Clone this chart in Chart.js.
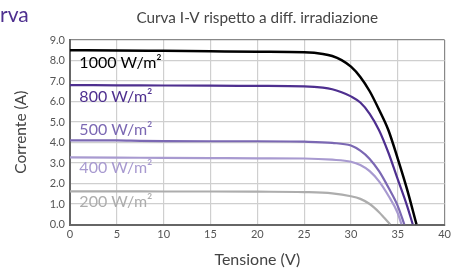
<!DOCTYPE html>
<html><head><meta charset="utf-8">
<script src="https://cdn.jsdelivr.net/npm/chart.js@4/dist/chart.umd.min.js"></script>
<style>html,body{margin:0;padding:0;background:#fff;overflow:hidden}#wrap{position:relative;width:454px;height:270px}</style>
</head><body><div id="wrap"><canvas id="c" width="454" height="270"></canvas></div>
<script>
const V1000 = [0,5,10,15,20,25,27,28,29,30,31,32,33,34,35,36,37];
const I1000 = [8.5,8.49,8.47,8.45,8.43,8.4,8.32,8.22,8.02,7.7,7.2,6.5,5.6,4.6,3.2,1.7,0];
const V800 = [0,5,10,15,20,25,27,28,29,30,31,32,33,34,35,36,36.6];
const I800 = [6.8,6.79,6.78,6.77,6.76,6.74,6.68,6.6,6.45,6.25,5.95,5.4,4.6,3.5,2.2,0.9,0];
const V500 = [0,5,7.5,10,15,20,25,28,30,31,32,33,34,35,35.7];
const I500 = [4.1,4.1,4.08,4.07,4.06,4.06,4.04,3.98,3.85,3.6,3.2,2.6,1.8,0.9,0];
const V400 = [0,5,10,15,20,25,28,30,31,32,33,34,35,35.4];
const I400 = [3.27,3.26,3.25,3.24,3.23,3.22,3.16,3.06,2.9,2.6,2.1,1.4,0.55,0];
const V200 = [0,5,10,15,20,25,28,30,31,32,33,33.6,34.2];
const I200 = [1.62,1.62,1.61,1.61,1.6,1.58,1.52,1.38,1.25,1.0,0.6,0.3,0];
const seriesLabels = ['1000 W/m²','800 W/m²','500 W/m²','400 W/m²','200 W/m²'];
const labelY = [7.9, 6.25, 4.6, 2.77, 1.12];
const chartTitle = 'Curva I-V rispetto a diff. irradiazione';
const xTitle = 'Tensione (V)';
const yTitle = 'Corrente (A)';
const cornerText = 'Curva';

const colors = ['#000000','#4e2f8f','#7b68b3','#a89ad0','#adadad'];
const widths = [2.5,2.2,2.2,2.2,2.2];
const Vs=[V1000,V800,V500,V400,V200], Is=[I1000,I800,I500,I400,I200];
const FONT = 'Lato, "Open Sans", sans-serif';

const textPlugin = {
  id:'texts',
  afterDatasetsDraw(chart){
    const ctx=chart.ctx, xs=chart.scales.x, ys=chart.scales.y;
    ctx.save();
    ctx.textBaseline='middle';
    ctx.textAlign='left';
    ctx.font='16px '+FONT;
    seriesLabels.forEach((t,i)=>{
      ctx.fillStyle=colors[i];
      ctx.fillText(t, xs.getPixelForValue(1), ys.getPixelForValue(labelY[i]));
    });
    ctx.restore();
  },
  afterDraw(chart){
    const ctx=chart.ctx, ca=chart.chartArea;
    ctx.save();
    ctx.textBaseline='middle';
    ctx.textAlign='center';
    ctx.fillStyle='#444';
    ctx.font='15.3px '+FONT;
    ctx.fillText(chartTitle,(ca.left+ca.right)/2,18);
    ctx.textAlign='left';
    ctx.fillStyle='#4e2f8f';
    ctx.font='21px '+FONT;
    const w=ctx.measureText('Cu').width;
    ctx.fillText(cornerText,-w,15);
    ctx.restore();
  }
};

new Chart(document.getElementById('c'),{
  type:'scatter',
  data:{datasets:Vs.map((v,i)=>({
    data:v.map((x,j)=>({x:x,y:Is[i][j]})),
    showLine:true,borderColor:colors[i],borderWidth:widths[i],
    pointRadius:0,cubicInterpolationMode:'monotone',fill:false
  }))},
  options:{
    responsive:false,animation:false,
    layout:{padding:{top:40,right:7,left:0,bottom:0}},
    plugins:{legend:{display:false},tooltip:{enabled:false}},
    scales:{
      x:{type:'linear',min:0,max:40,
        ticks:{stepSize:5,color:'#555',font:{family:FONT,size:11},padding:3,maxRotation:0},
        grid:{color:(c)=>c.tick&&c.tick.value===40?'#888':'#cfcfcf',lineWidth:1.2,drawTicks:false},
        border:{color:'#666',width:2},
        title:{display:true,text:xTitle,color:'#444',font:{family:FONT,size:16},padding:{top:4,bottom:1}},
        afterFit(s){s.height=45.5;}
      },
      y:{type:'linear',min:0,max:9,
        ticks:{stepSize:1,color:'#555',font:{family:FONT,size:11},padding:5,callback:v=>v.toFixed(1)},
        grid:{color:(c)=>c.tick&&c.tick.value===9?'#888':'#cfcfcf',lineWidth:1.2,drawTicks:false},
        border:{color:'#666',width:2},
        title:{display:true,text:yTitle,color:'#444',font:{family:FONT,size:15.5},padding:{top:12,bottom:4}},
        afterFit(s){s.width=70;}
      }
    }
  },
  plugins:[textPlugin]
});
</script></body></html>
